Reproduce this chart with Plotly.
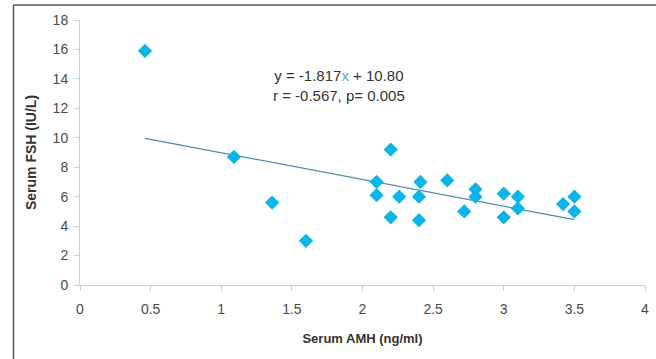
import plotly.graph_objects as go

amh = [0.46, 1.09, 1.36, 1.60, 2.10, 2.10, 2.20, 2.20, 2.26, 2.41, 2.40, 2.40,
       2.60, 2.72, 2.80, 2.80, 3.00, 3.00, 3.10, 3.10, 3.42, 3.50, 3.50]
fsh = [15.9, 8.7, 5.6, 3.0, 7.0, 6.1, 9.2, 4.6, 6.0, 7.0, 6.0, 4.4,
       7.1, 5.0, 6.5, 6.0, 6.2, 4.6, 6.0, 5.2, 5.5, 6.0, 5.0]
slope = -1.817
intercept = 10.80
x_ticks = [0, 0.5, 1, 1.5, 2, 2.5, 3, 3.5, 4]
x_tick_labels = ["0", "0.5", "1", "1.5", "2", "2.5", "3", "3.5", "4"]
y_ticks = [0, 2, 4, 6, 8, 10, 12, 14, 16, 18]

fit_x = [min(amh), max(amh)]
fit_y = [slope * v + intercept for v in fit_x]

axis_col = "#b9d5e2"
txt_col = "#4a4a4a"

fig = go.Figure()
fig.add_trace(go.Scatter(x=fit_x, y=fit_y, mode="lines",
                         line=dict(color="#4f8aa8", width=1.2), showlegend=False,
                         hoverinfo="skip"))
fig.add_trace(go.Scatter(x=amh, y=fsh, mode="markers",
                         marker=dict(symbol="diamond", size=11, color="#0bb5ea",
                                     line=dict(width=0)),
                         showlegend=False))

fig.add_annotation(x=1.835, y=13.55, xref="x", yref="y",
                   text="y = -1.817<span style='color:#5aa8d8'>x</span> + 10.80<br>r = -0.567, p= 0.005",
                   showarrow=False, align="center",
                   font=dict(family="Arial, Liberation Sans", size=15, color="#333333"))

# outer frame (top and left)
fx0 = (13 - 80) / 569
fy0 = (285 - 5) / 265
fig.add_shape(type="line", xref="paper", yref="paper", x0=fx0, x1=1.02, y0=fy0, y1=fy0,
              line=dict(color="#555555", width=1.5))
fig.add_shape(type="line", xref="paper", yref="paper", x0=fx0, x1=fx0, y0=fy0, y1=-0.3,
              line=dict(color="#555555", width=1.5))

fig.update_layout(
    width=656, height=359,
    margin=dict(l=80, r=7, t=20, b=74),
    paper_bgcolor="white", plot_bgcolor="white",
    font=dict(family="Arial, Liberation Sans", size=14, color=txt_col),
    xaxis=dict(range=[0, 4], tickvals=x_ticks, ticktext=x_tick_labels,
               showgrid=False, zeroline=False, showline=True, linecolor=axis_col,
               linewidth=1, ticks="outside", ticklen=5, tickcolor=axis_col,
               ticklabelstandoff=6,
               tickfont=dict(size=14, color=txt_col),
               title=dict(text="<b>Serum AMH (ng/ml)</b>", standoff=18,
                          font=dict(size=13, color="#333333"))),
    yaxis=dict(range=[0, 18], tickvals=y_ticks,
               showgrid=False, zeroline=False, showline=True, linecolor=axis_col,
               linewidth=1, ticks="outside", ticklen=5, tickcolor=axis_col,
               ticklabelstandoff=3,
               tickfont=dict(size=14, color=txt_col),
               title=dict(text="<b>Serum FSH (IU/L)</b>", standoff=12,
                          font=dict(size=14, color="#333333"))),
)

fig.write_html("out.html")
